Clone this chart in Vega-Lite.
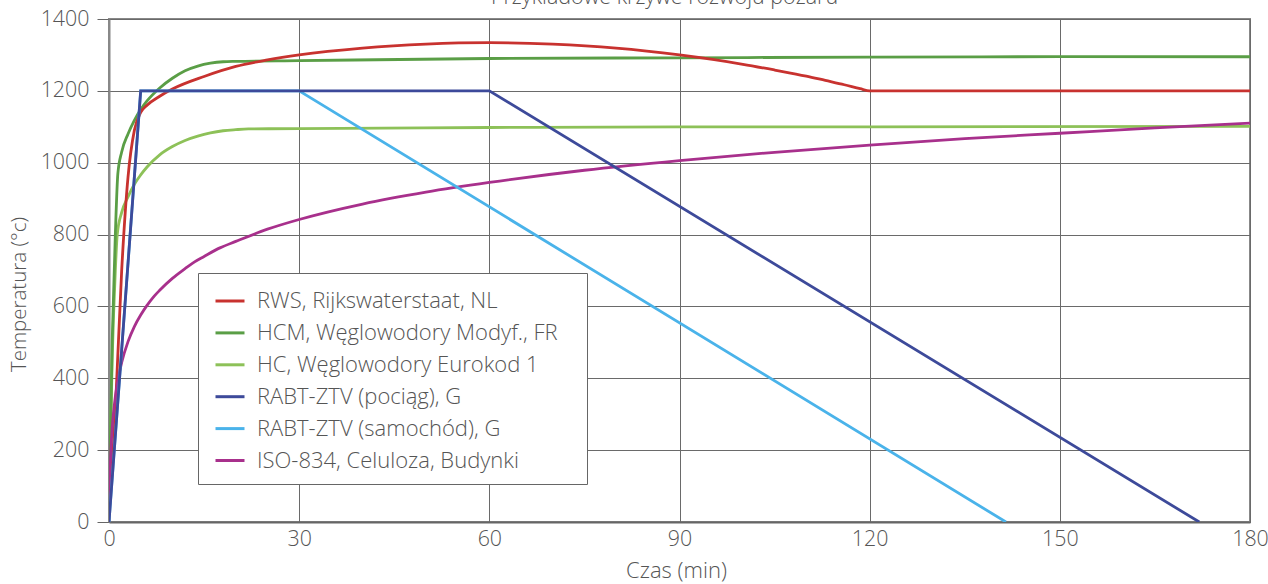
{
  "$schema": "https://vega.github.io/schema/vega-lite/v6.json",
  "width": 1141,
  "height": 503,
  "autosize": {"type": "none"},
  "padding": {"left": 109, "top": 19, "right": 18, "bottom": 62},
  "title": {
    "text": "Przykładowe krzywe rozwoju pożaru",
    "font": "Open Sans",
    "fontSize": 21.5,
    "fontWeight": 300,
    "color": "#555555",
    "anchor": "middle",
    "frame": "group",
    "dx": -15,
    "dy": 4
  },
  "datasets": {
    "smooth": [
      {"series": "HC, Węglowodory Eurokod 1", "t": 0, "temp": 20},
      {"series": "HC, Węglowodory Eurokod 1", "t": 0.5, "temp": 450},
      {"series": "HC, Węglowodory Eurokod 1", "t": 1, "temp": 700},
      {"series": "HC, Węglowodory Eurokod 1", "t": 1.3, "temp": 800},
      {"series": "HC, Węglowodory Eurokod 1", "t": 2, "temp": 862},
      {"series": "HC, Węglowodory Eurokod 1", "t": 3, "temp": 905},
      {"series": "HC, Węglowodory Eurokod 1", "t": 4, "temp": 940},
      {"series": "HC, Węglowodory Eurokod 1", "t": 5, "temp": 966},
      {"series": "HC, Węglowodory Eurokod 1", "t": 6, "temp": 988},
      {"series": "HC, Węglowodory Eurokod 1", "t": 8, "temp": 1022},
      {"series": "HC, Węglowodory Eurokod 1", "t": 10, "temp": 1045},
      {"series": "HC, Węglowodory Eurokod 1", "t": 12, "temp": 1062},
      {"series": "HC, Węglowodory Eurokod 1", "t": 14, "temp": 1074},
      {"series": "HC, Węglowodory Eurokod 1", "t": 16, "temp": 1083},
      {"series": "HC, Węglowodory Eurokod 1", "t": 18, "temp": 1089},
      {"series": "HC, Węglowodory Eurokod 1", "t": 20, "temp": 1092},
      {"series": "HC, Węglowodory Eurokod 1", "t": 22, "temp": 1094},
      {"series": "HC, Węglowodory Eurokod 1", "t": 30, "temp": 1095},
      {"series": "HC, Węglowodory Eurokod 1", "t": 60, "temp": 1098},
      {"series": "HC, Węglowodory Eurokod 1", "t": 90, "temp": 1100},
      {"series": "HC, Węglowodory Eurokod 1", "t": 120, "temp": 1100},
      {"series": "HC, Węglowodory Eurokod 1", "t": 180, "temp": 1101},
      {"series": "HCM, Węglowodory Modyf., FR", "t": 0, "temp": 20},
      {"series": "HCM, Węglowodory Modyf., FR", "t": 0.5, "temp": 500},
      {"series": "HCM, Węglowodory Modyf., FR", "t": 1, "temp": 800},
      {"series": "HCM, Węglowodory Modyf., FR", "t": 1.4, "temp": 970},
      {"series": "HCM, Węglowodory Modyf., FR", "t": 2, "temp": 1030},
      {"series": "HCM, Węglowodory Modyf., FR", "t": 3, "temp": 1080},
      {"series": "HCM, Węglowodory Modyf., FR", "t": 4, "temp": 1118},
      {"series": "HCM, Węglowodory Modyf., FR", "t": 5, "temp": 1148},
      {"series": "HCM, Węglowodory Modyf., FR", "t": 6, "temp": 1172},
      {"series": "HCM, Węglowodory Modyf., FR", "t": 8, "temp": 1208},
      {"series": "HCM, Węglowodory Modyf., FR", "t": 10, "temp": 1235},
      {"series": "HCM, Węglowodory Modyf., FR", "t": 12, "temp": 1256},
      {"series": "HCM, Węglowodory Modyf., FR", "t": 14, "temp": 1269},
      {"series": "HCM, Węglowodory Modyf., FR", "t": 16, "temp": 1277},
      {"series": "HCM, Węglowodory Modyf., FR", "t": 18, "temp": 1281},
      {"series": "HCM, Węglowodory Modyf., FR", "t": 20, "temp": 1282},
      {"series": "HCM, Węglowodory Modyf., FR", "t": 30, "temp": 1284},
      {"series": "HCM, Węglowodory Modyf., FR", "t": 60, "temp": 1290},
      {"series": "HCM, Węglowodory Modyf., FR", "t": 90, "temp": 1292},
      {"series": "HCM, Węglowodory Modyf., FR", "t": 120, "temp": 1294},
      {"series": "HCM, Węglowodory Modyf., FR", "t": 150, "temp": 1295},
      {"series": "HCM, Węglowodory Modyf., FR", "t": 180, "temp": 1295},
      {"series": "RWS, Rijkswaterstaat, NL", "t": 0, "temp": 20},
      {"series": "RWS, Rijkswaterstaat, NL", "t": 1, "temp": 310},
      {"series": "RWS, Rijkswaterstaat, NL", "t": 2, "temp": 700},
      {"series": "RWS, Rijkswaterstaat, NL", "t": 3, "temp": 960},
      {"series": "RWS, Rijkswaterstaat, NL", "t": 4, "temp": 1090},
      {"series": "RWS, Rijkswaterstaat, NL", "t": 5, "temp": 1140},
      {"series": "RWS, Rijkswaterstaat, NL", "t": 6, "temp": 1160},
      {"series": "RWS, Rijkswaterstaat, NL", "t": 8, "temp": 1185},
      {"series": "RWS, Rijkswaterstaat, NL", "t": 10, "temp": 1205},
      {"series": "RWS, Rijkswaterstaat, NL", "t": 15, "temp": 1240},
      {"series": "RWS, Rijkswaterstaat, NL", "t": 20, "temp": 1268},
      {"series": "RWS, Rijkswaterstaat, NL", "t": 25, "temp": 1286},
      {"series": "RWS, Rijkswaterstaat, NL", "t": 30, "temp": 1300},
      {"series": "RWS, Rijkswaterstaat, NL", "t": 40, "temp": 1319},
      {"series": "RWS, Rijkswaterstaat, NL", "t": 50, "temp": 1330},
      {"series": "RWS, Rijkswaterstaat, NL", "t": 60, "temp": 1334},
      {"series": "RWS, Rijkswaterstaat, NL", "t": 70, "temp": 1330},
      {"series": "RWS, Rijkswaterstaat, NL", "t": 80, "temp": 1319},
      {"series": "RWS, Rijkswaterstaat, NL", "t": 90, "temp": 1300},
      {"series": "RWS, Rijkswaterstaat, NL", "t": 100, "temp": 1274},
      {"series": "RWS, Rijkswaterstaat, NL", "t": 105, "temp": 1258},
      {"series": "RWS, Rijkswaterstaat, NL", "t": 110, "temp": 1241},
      {"series": "RWS, Rijkswaterstaat, NL", "t": 113, "temp": 1229},
      {"series": "RWS, Rijkswaterstaat, NL", "t": 116, "temp": 1217},
      {"series": "RWS, Rijkswaterstaat, NL", "t": 118.5, "temp": 1206},
      {"series": "RWS, Rijkswaterstaat, NL", "t": 120, "temp": 1200},
      {"series": "RWS, Rijkswaterstaat, NL", "t": 150, "temp": 1200},
      {"series": "RWS, Rijkswaterstaat, NL", "t": 180, "temp": 1200},
      {"series": "ISO-834, Celuloza, Budynki", "t": 0, "temp": 20},
      {"series": "ISO-834, Celuloza, Budynki", "t": 0.15, "temp": 130},
      {"series": "ISO-834, Celuloza, Budynki", "t": 0.3, "temp": 200},
      {"series": "ISO-834, Celuloza, Budynki", "t": 0.5, "temp": 261},
      {"series": "ISO-834, Celuloza, Budynki", "t": 0.75, "temp": 310},
      {"series": "ISO-834, Celuloza, Budynki", "t": 1, "temp": 349},
      {"series": "ISO-834, Celuloza, Budynki", "t": 1.5, "temp": 404},
      {"series": "ISO-834, Celuloza, Budynki", "t": 2, "temp": 444},
      {"series": "ISO-834, Celuloza, Budynki", "t": 3, "temp": 502},
      {"series": "ISO-834, Celuloza, Budynki", "t": 4, "temp": 544},
      {"series": "ISO-834, Celuloza, Budynki", "t": 5, "temp": 576},
      {"series": "ISO-834, Celuloza, Budynki", "t": 6, "temp": 603},
      {"series": "ISO-834, Celuloza, Budynki", "t": 7, "temp": 626},
      {"series": "ISO-834, Celuloza, Budynki", "t": 8, "temp": 645},
      {"series": "ISO-834, Celuloza, Budynki", "t": 10, "temp": 678},
      {"series": "ISO-834, Celuloza, Budynki", "t": 12, "temp": 705},
      {"series": "ISO-834, Celuloza, Budynki", "t": 13.5, "temp": 724},
      {"series": "ISO-834, Celuloza, Budynki", "t": 15, "temp": 739},
      {"series": "ISO-834, Celuloza, Budynki", "t": 17.5, "temp": 763},
      {"series": "ISO-834, Celuloza, Budynki", "t": 20, "temp": 781},
      {"series": "ISO-834, Celuloza, Budynki", "t": 25, "temp": 815},
      {"series": "ISO-834, Celuloza, Budynki", "t": 30, "temp": 842},
      {"series": "ISO-834, Celuloza, Budynki", "t": 40, "temp": 885},
      {"series": "ISO-834, Celuloza, Budynki", "t": 50, "temp": 918},
      {"series": "ISO-834, Celuloza, Budynki", "t": 60, "temp": 945},
      {"series": "ISO-834, Celuloza, Budynki", "t": 75, "temp": 979},
      {"series": "ISO-834, Celuloza, Budynki", "t": 90, "temp": 1006},
      {"series": "ISO-834, Celuloza, Budynki", "t": 105, "temp": 1029},
      {"series": "ISO-834, Celuloza, Budynki", "t": 120, "temp": 1049},
      {"series": "ISO-834, Celuloza, Budynki", "t": 135, "temp": 1067},
      {"series": "ISO-834, Celuloza, Budynki", "t": 150, "temp": 1082},
      {"series": "ISO-834, Celuloza, Budynki", "t": 165, "temp": 1097},
      {"series": "ISO-834, Celuloza, Budynki", "t": 180, "temp": 1110}
    ],
    "rabt": [
      {"series": "RABT-ZTV (samochód), G", "t": 0, "temp": 0},
      {"series": "RABT-ZTV (samochód), G", "t": 5, "temp": 1200},
      {"series": "RABT-ZTV (samochód), G", "t": 30, "temp": 1200},
      {"series": "RABT-ZTV (samochód), G", "t": 141.5, "temp": 0},
      {"series": "RABT-ZTV (pociąg), G", "t": 0, "temp": 0},
      {"series": "RABT-ZTV (pociąg), G", "t": 5, "temp": 1200},
      {"series": "RABT-ZTV (pociąg), G", "t": 60, "temp": 1200},
      {"series": "RABT-ZTV (pociąg), G", "t": 172, "temp": 0}
    ]
  },
  "encoding": {
    "x": {
      "field": "t",
      "type": "quantitative",
      "title": "Czas (min)",
      "scale": {"domain": [0, 180], "nice": false, "zero": false},
      "axis": {
        "values": [0, 30, 60, 90, 120, 150, 180],
        "grid": true,
        "ticks": false,
        "labelFlush": false,
        "labelOverlap": false,
        "labelPadding": 6,
        "domainColor": "#666666",
        "domainWidth": 2,
        "titleFontSize": 22,
        "titlePadding": 11,
        "titleX": 567
      }
    },
    "y": {
      "field": "temp",
      "type": "quantitative",
      "title": "Temperatura (°c)",
      "scale": {"domain": [0, 1400], "nice": false},
      "axis": {
        "values": [0, 200, 400, 600, 800, 1000, 1200, 1400],
        "format": "d",
        "grid": true,
        "ticks": true,
        "tickSize": 12,
        "tickColor": "#666666",
        "labelFlush": false,
        "labelOverlap": false,
        "labelPadding": 8,
        "domainColor": "#888888",
        "domainWidth": 2,
        "titleX": -90,
        "titleY": 275,
        "titleAlign": "center",
        "titleBaseline": "middle",
        "titleAngle": 270
      }
    },
    "color": {
      "field": "series",
      "type": "nominal",
      "scale": {
        "domain": [
          "RWS, Rijkswaterstaat, NL",
          "HCM, Węglowodory Modyf., FR",
          "HC, Węglowodory Eurokod 1",
          "RABT-ZTV (pociąg), G",
          "RABT-ZTV (samochód), G",
          "ISO-834, Celuloza, Budynki"
        ],
        "range": ["#c8322f", "#5a9e46", "#8dc158", "#3d4a9a", "#4ab3ea", "#a8308c"]
      },
      "legend": {
        "title": "\u00a0",
        "titleOrient": "right",
        "titlePadding": 17,
        "orient": "none",
        "legendX": 89,
        "legendY": 254,
        "fillColor": "white",
        "strokeColor": "#666666",
        "padding": 12,
        "symbolType": "stroke",
        "symbolStrokeWidth": 3,
        "symbolSize": 841,
        "symbolOffset": 4,
        "labelOffset": 11,
        "rowPadding": 4.9,
        "labelLimit": 500,
        "labelFontSize": 22,
        "labelFontWeight": 300,
        "labelFont": "Open Sans",
        "labelColor": "#555555",
        "labelBaseline": "middle"
      }
    }
  },
  "layer": [
    {
      "data": {"name": "smooth"},
      "mark": {"type": "line", "interpolate": "monotone", "strokeWidth": 2.8, "clip": true}
    },
    {
      "data": {"name": "rabt"},
      "mark": {"type": "line", "strokeWidth": 2.8, "clip": true}
    }
  ],
  "config": {
    "font": "Open Sans",
    "view": {"stroke": "#888888", "strokeWidth": 2},
    "axis": {
      "gridColor": "#6a6a6a",
      "gridWidth": 1,
      "gridOpacity": 1,
      "labelFont": "Open Sans",
      "labelFontSize": 21.4,
      "labelFontWeight": 300,
      "labelColor": "#555555",
      "titleFont": "Open Sans",
      "titleFontSize": 20.5,
      "titleFontWeight": 300,
      "titleColor": "#555555"
    }
  }
}
